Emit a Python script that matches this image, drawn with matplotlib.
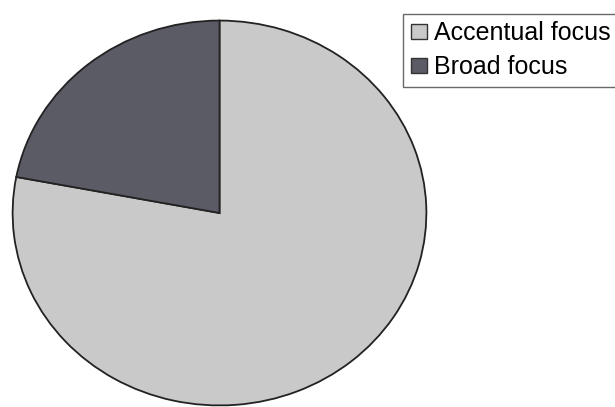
import matplotlib.pyplot as plt
from matplotlib.patches import Patch

labels = ['Accentual focus', 'Broad focus']
shares = [78, 22]
colors = ['#c9c9c9', '#5b5b66']

fig = plt.figure(figsize=(6.15, 4.07), dpi=100)
W, H = 615, 407

# pie is slightly wider than tall, so place the axes in pixels and let it stretch
cx, cy, rx, ry = 219.5, 213, 207.5, 193
ax = fig.add_axes([(cx - rx) / W, 1 - (cy + ry) / H, 2 * rx / W, 2 * ry / H])
ax.pie(shares, colors=colors, startangle=90, counterclock=False,
       wedgeprops=dict(edgecolor='#222222', linewidth=1.3))
ax.set_aspect('auto')
ax.set_xlim(-1.003, 1.003)
ax.set_ylim(-1.003, 1.003)

handles = [Patch(facecolor=c, edgecolor='#333333', linewidth=1.0) for c in colors]
leg = fig.legend(handles, labels, loc='upper left',
                 bbox_to_anchor=(403 / W, 1 - 14 / H), borderaxespad=0,
                 prop={'family': 'Liberation Sans', 'size': 18},
                 frameon=True, fancybox=False, edgecolor='#444444',
                 handlelength=0.64, handleheight=0.56, handletextpad=0.28,
                 labelspacing=0.38, borderpad=0.3)
leg.get_frame().set_linewidth(1.0)

fig.savefig('out.png', dpi=100)
